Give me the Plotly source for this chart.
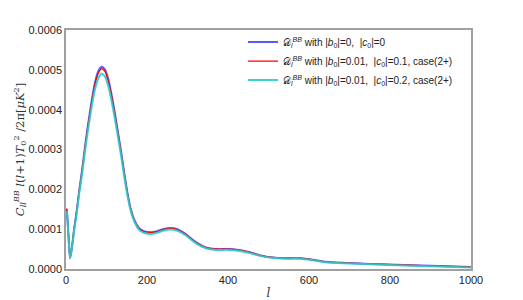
import plotly.graph_objects as go

ell = [2, 4, 7, 10, 14, 20, 27, 33, 40, 46, 52, 58, 65, 72, 80, 88, 96, 104, 112, 120,
       128, 136, 144, 152, 160, 170, 180, 192, 208, 225, 240, 257, 275, 295, 320, 345,
       370, 400, 425, 450, 480, 510, 550, 580, 610, 640, 700, 800, 900, 1000]

d_blue = [0.000150, 0.000120, 0.000070, 0.000028, 0.000050, 0.000100, 0.000150, 0.000200,
          0.000250, 0.000300, 0.000345, 0.000387, 0.000432, 0.000470, 0.000497, 0.000508,
          0.000501, 0.000478, 0.000440, 0.000395, 0.000345, 0.000295, 0.000240, 0.000190,
          0.000150, 0.000120, 0.000103, 0.000095, 0.000092, 0.000095, 0.000100, 0.000103,
          0.000100, 0.000088, 0.000068, 0.000054, 0.000050, 0.000050, 0.000048, 0.000043,
          0.000034, 0.000029, 0.000027, 0.000027, 0.000023, 0.000018, 0.000015, 0.000011,
          0.000008, 0.000005]

d_red = [0.000152, 0.000121, 0.000070, 0.000028, 0.000050, 0.000099, 0.000149, 0.000198,
         0.000248, 0.000297, 0.000342, 0.000383, 0.000428, 0.000465, 0.000492, 0.000503,
         0.000496, 0.000473, 0.000436, 0.000391, 0.000342, 0.000292, 0.000238, 0.000188,
         0.000149, 0.000119, 0.000102, 0.000094, 0.000091, 0.000094, 0.000099, 0.000102,
         0.000099, 0.000087, 0.000067, 0.000054, 0.000050, 0.000050, 0.000048, 0.000043,
         0.000034, 0.000029, 0.000027, 0.000027, 0.000023, 0.000018, 0.000015, 0.000011,
         0.000008, 0.000005]

d_cyan = [0.000146, 0.000117, 0.000068, 0.000027, 0.000048, 0.000096, 0.000145, 0.000193,
          0.000241, 0.000289, 0.000333, 0.000373, 0.000417, 0.000453, 0.000479, 0.000490,
          0.000483, 0.000461, 0.000424, 0.000381, 0.000333, 0.000285, 0.000231, 0.000183,
          0.000145, 0.000116, 0.000099, 0.000091, 0.000088, 0.000091, 0.000096, 0.000099,
          0.000096, 0.000085, 0.000065, 0.000052, 0.000048, 0.000048, 0.000046, 0.000041,
          0.000033, 0.000028, 0.000026, 0.000026, 0.000022, 0.000017, 0.000014, 0.000010,
          0.000007, 0.000004]

names = [
    "𝒟<sub><i>l</i></sub><sup><i>BB</i></sup> with |<i>b</i><sub>0</sub>|=0,  |<i>c</i><sub>0</sub>|=0",
    "𝒟<sub><i>l</i></sub><sup><i>BB</i></sup> with |<i>b</i><sub>0</sub>|=0.01,  |<i>c</i><sub>0</sub>|=0.1, case(2+)",
    "𝒟<sub><i>l</i></sub><sup><i>BB</i></sup> with |<i>b</i><sub>0</sub>|=0.01,  |<i>c</i><sub>0</sub>|=0.2, case(2+)",
]
colors = ["rgba(60,60,255,0.85)", "#ff0000", "rgba(40,205,205,0.9)"]
widths = [2, 1.3, 2]

fig = go.Figure()
for y, n, c, w in zip([d_blue, d_red, d_cyan], names, colors, widths):
    fig.add_trace(go.Scatter(x=ell, y=y, mode="lines", name=n,
                             line=dict(color=c, width=w, shape="spline", smoothing=0.8)))

axis_common = dict(showline=True, mirror=True, linecolor="#a0a0a0", linewidth=1.5,
                   showgrid=False, zeroline=False, ticks="", automargin=False,
                   tickfont=dict(family="Liberation Sans, Arial", size=11, color="#222"))

# page body has an 8px default margin; figure sized so plot area matches reference
fig.update_layout(
    width=515, height=292,
    margin=dict(l=58, r=52, t=22, b=31),
    paper_bgcolor="white", plot_bgcolor="white",
    xaxis=dict(range=[0, 1000], tickvals=[0, 200, 400, 600, 800, 1000],
               title=dict(text="<i>l</i>", standoff=4,
                          font=dict(family="DejaVu Serif", size=12, color="#333")),
               **axis_common),
    yaxis=dict(range=[0, 0.0006], tickvals=[0, 0.0001, 0.0002, 0.0003, 0.0004, 0.0005, 0.0006],
               tickformat=".4f",
               title=dict(text="<i>C</i><sub><i>ll</i></sub><sup><i>BB</i></sup> <i>l</i>(<i>l</i>+1)<i>T</i><sub>0</sub><sup>2</sup> /2π[<i>μK</i><sup>2</sup>]",
                          standoff=0,
                          font=dict(family="DejaVu Serif", size=11.5, color="#333")),
               **axis_common),
    legend=dict(x=0.437, y=1.01, xanchor="left", yanchor="top",
                bgcolor="rgba(0,0,0,0)", borderwidth=0,
                font=dict(family="Liberation Sans, Arial", size=10, color="#222"),
                tracegroupgap=0, itemwidth=30),
    showlegend=True,
)

fig.write_html("out.html")
